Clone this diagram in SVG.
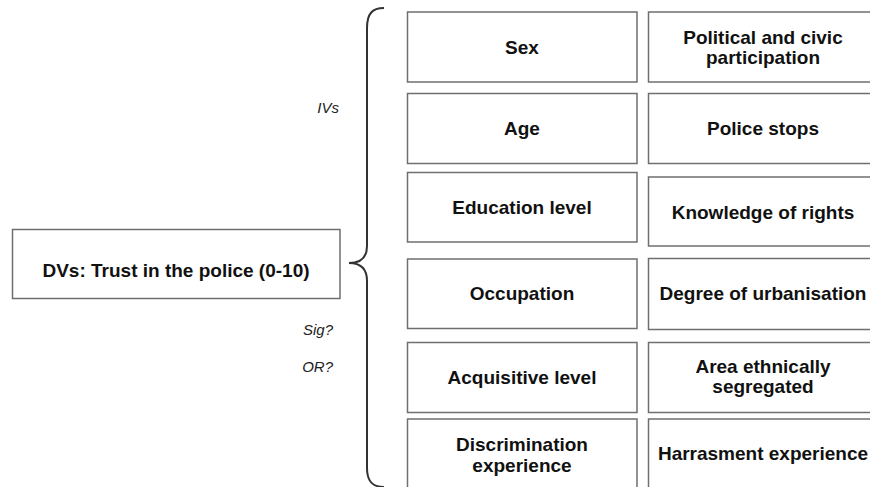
<svg xmlns="http://www.w3.org/2000/svg" width="870" height="487" viewBox="0 0 870 487">
  <style>
    .box { fill: #ffffff; stroke: #6f6f6f; stroke-width: 1.5; }
    .lbl { font-family: "Liberation Sans", Arial, sans-serif; font-weight: bold; font-size: 19px; fill: #111111; text-anchor: middle; }
    .note { font-family: "Liberation Sans", Arial, sans-serif; font-style: italic; font-size: 15px; fill: #222222; text-anchor: end; }
    .brace { fill: none; stroke: #333333; stroke-width: 2; }
  </style>
  <rect width="870" height="487" fill="#ffffff"/>

  <!-- dependent variable -->
  <g id="dv">
    <rect class="box" x="12.5" y="229.5" width="327.5" height="69"/>
    <text class="lbl" x="176" y="277">DVs: Trust in the police (0-10)</text>
  </g>

  <!-- side notes -->
  <g id="notes">
    <text class="note" x="339" y="113">IVs</text>
    <text class="note" x="333" y="335">Sig?</text>
    <text class="note" x="333" y="372">OR?</text>
  </g>

  <!-- brace linking the DV to the list of IVs -->
  <g id="connectors">
    <path class="brace" d="M 384 8 C 372 8 367 14 367 28 L 367 246 C 367 258 360 263 349 263 C 360 263 367 268 367 281 L 367 468 C 367 481 372 487 384 487"/>
  </g>

  <!-- left column of independent variables -->
  <g id="iv-sex">
    <rect class="box" x="407.5" y="12" width="229.5" height="70"/>
    <text class="lbl" x="522" y="54">Sex</text>
  </g>
  <g id="iv-age">
    <rect class="box" x="407.5" y="93.5" width="229.5" height="70"/>
    <text class="lbl" x="522" y="135">Age</text>
  </g>
  <g id="iv-education">
    <rect class="box" x="407.5" y="172.5" width="229.5" height="69.5"/>
    <text class="lbl" x="522" y="214">Education level</text>
  </g>
  <g id="iv-occupation">
    <rect class="box" x="407.5" y="259" width="229.5" height="69.5"/>
    <text class="lbl" x="522" y="300">Occupation</text>
  </g>
  <g id="iv-acquisitive">
    <rect class="box" x="407.5" y="342.5" width="229.5" height="70"/>
    <text class="lbl" x="522" y="384">Acquisitive level</text>
  </g>
  <g id="iv-discrimination">
    <rect class="box" x="407.5" y="419" width="229.5" height="70"/>
    <text class="lbl" x="522" y="451">Discrimination</text>
    <text class="lbl" x="522" y="472">experience</text>
  </g>

  <!-- right column of independent variables -->
  <g id="iv-participation">
    <rect class="box" x="648.5" y="12" width="230" height="70"/>
    <text class="lbl" x="763" y="44">Political and civic</text>
    <text class="lbl" x="763" y="64">participation</text>
  </g>
  <g id="iv-stops">
    <rect class="box" x="648.5" y="93.5" width="230" height="70"/>
    <text class="lbl" x="763" y="135">Police stops</text>
  </g>
  <g id="iv-rights">
    <rect class="box" x="648.5" y="177" width="230" height="69"/>
    <text class="lbl" x="763" y="219">Knowledge of rights</text>
  </g>
  <g id="iv-urbanisation">
    <rect class="box" x="648.5" y="258.5" width="230" height="71"/>
    <text class="lbl" x="763" y="300">Degree of urbanisation</text>
  </g>
  <g id="iv-segregation">
    <rect class="box" x="648.5" y="342.5" width="230" height="70"/>
    <text class="lbl" x="763" y="373">Area ethnically</text>
    <text class="lbl" x="763" y="393">segregated</text>
  </g>
  <g id="iv-harassment">
    <rect class="box" x="648.5" y="419" width="230" height="70"/>
    <text class="lbl" x="763" y="460">Harrasment experience</text>
  </g>
</svg>
